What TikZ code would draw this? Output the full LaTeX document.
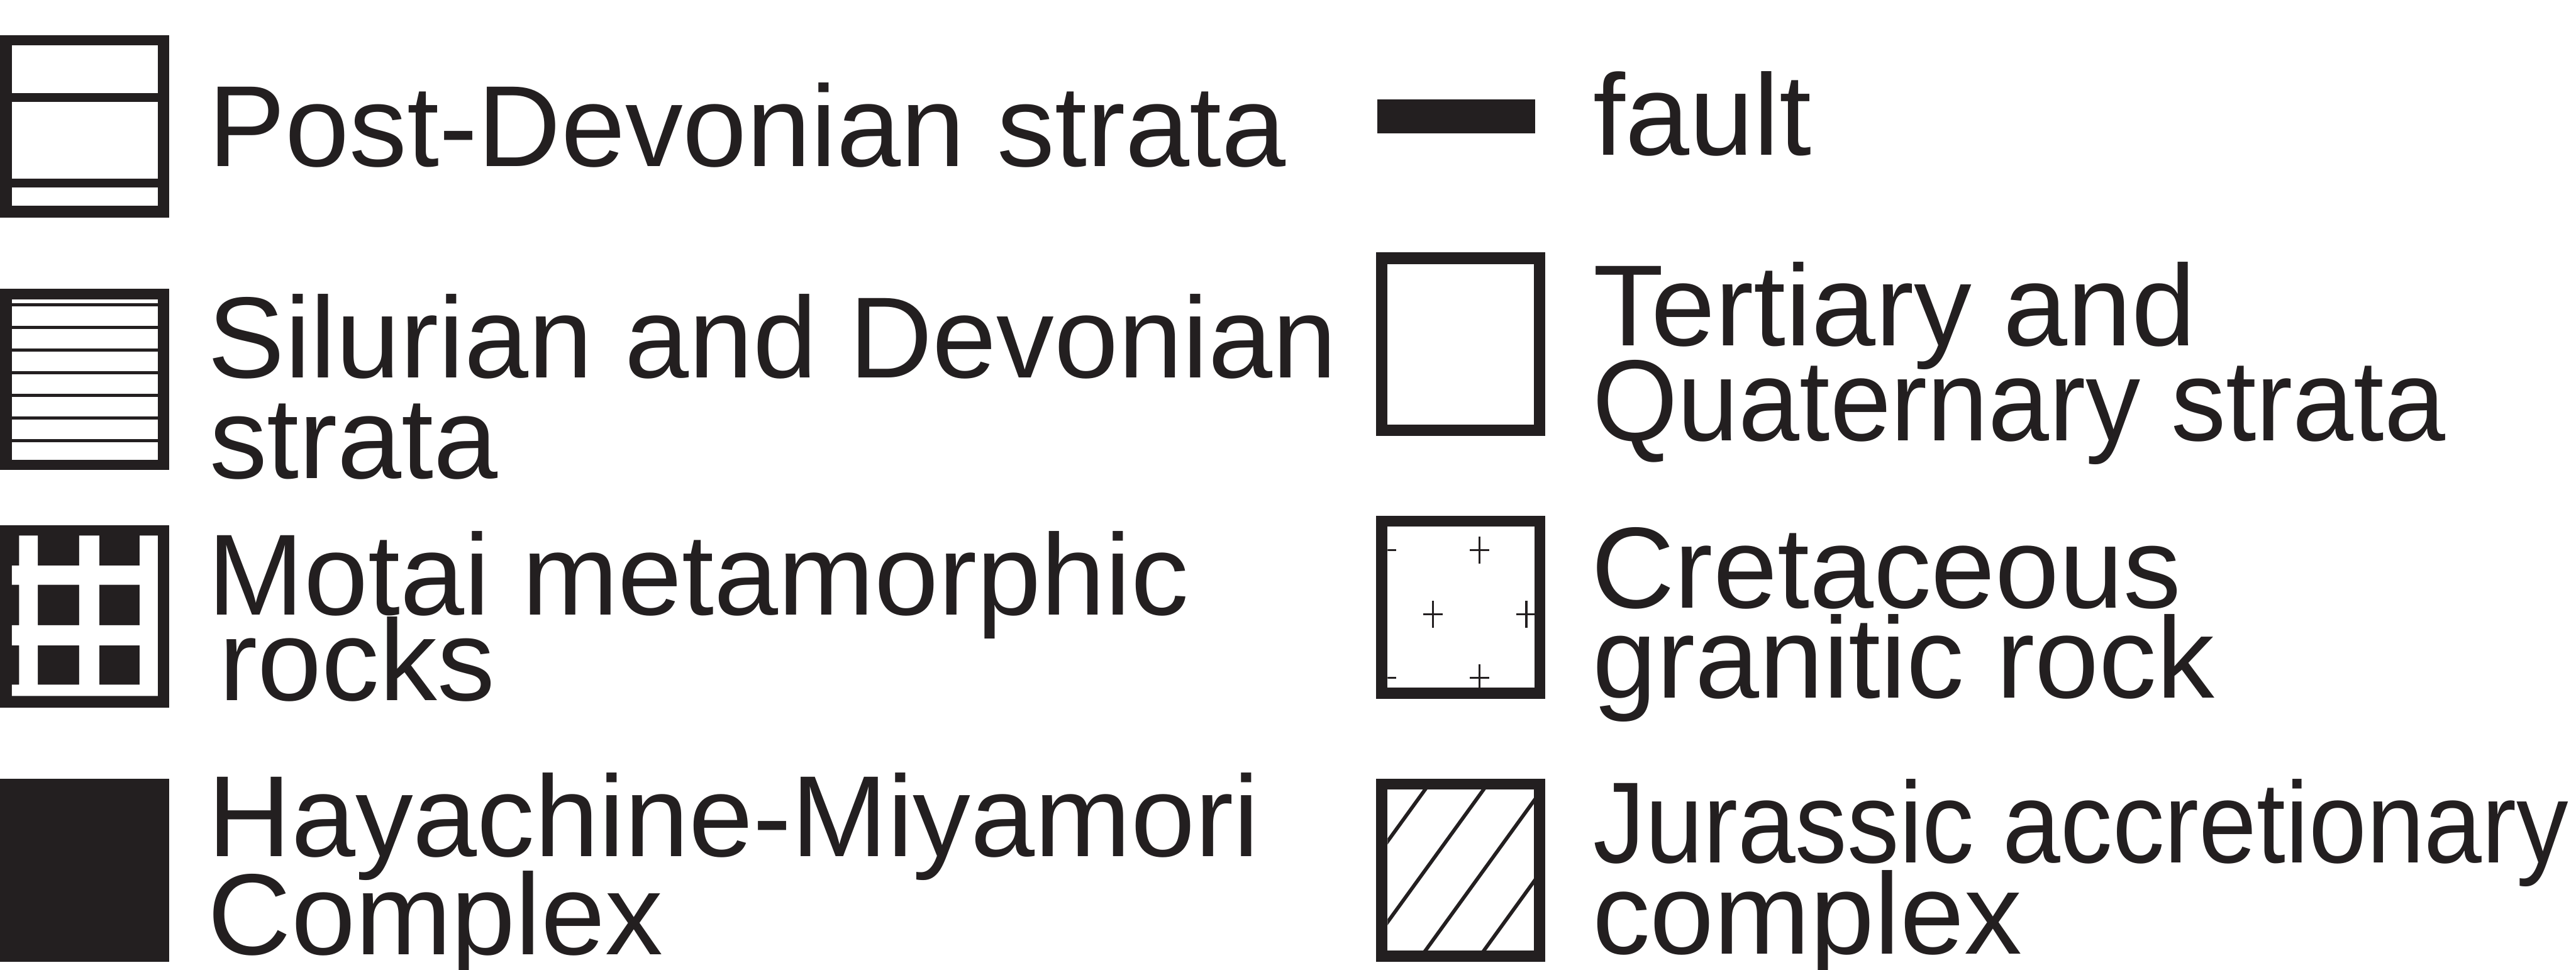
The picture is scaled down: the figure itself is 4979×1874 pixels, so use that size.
\documentclass[tikz,border=0pt]{standalone}
\usepackage{fontspec}
\newfontfamily\legendfont{Liberation Sans}
\definecolor{ink}{HTML}{231F20}
\tikzset{
  granitecross/.pic={\draw[ink, line width=4pt] (-19,0) -- (19,0) (0,-26) -- (0,26);}
}
\begin{document}
\begin{tikzpicture}[x=1pt, y=-1pt,
  lab/.style={anchor=base west, inner sep=0pt, outer sep=0pt, text=ink,
    font=\legendfont\fontsize{223pt}{223pt}\selectfont},
  swatch/.style={fill=ink},
  paper/.style={fill=white}]
\useasboundingbox[fill=white] (0,0) rectangle (4979,1874);

% Post-Devonian strata: two bands in an open box
\fill[swatch] (0,68) rectangle (327,420);
\fill[paper] (23,88) rectangle (305,398);
\fill[swatch] (23,180) rectangle (305,197);
\fill[swatch] (23,345) rectangle (305,362);

% Silurian and Devonian strata: closely ruled box
\fill[swatch] (0,558) rectangle (327,908);
\fill[paper] (23,578) rectangle (305,888);
\foreach \k in {0,...,6}
  \fill[swatch] (23,{585.5+43.75*\k}) rectangle (305,{592.5+43.75*\k});

% Motai metamorphic rocks: black blocks on a white grid
\fill[swatch] (0,1015) rectangle (327,1367);
\fill[paper] (37,1035) rectangle (73,1345)
             (153,1035) rectangle (192,1323)
             (270,1035) rectangle (305,1345)
             (23,1093) rectangle (305,1130)
             (23,1208) rectangle (305,1247)
             (23,1323) rectangle (305,1345);

% Hayachine-Miyamori Complex: solid box
\fill[swatch] (0,1505) rectangle (327,1858);

% fault
\fill[swatch] (2662,192) rectangle (2967,258);

% Tertiary and Quaternary strata: empty box
\fill[swatch] (2660,488) rectangle (2987,842);
\fill[paper] (2682,510) rectangle (2965,820);

% Cretaceous granitic rock: scattered crosses
\fill[swatch] (2660,997) rectangle (2987,1350);
\fill[paper] (2682,1018) rectangle (2966,1328);
\begin{scope}
  \clip (2682,1018) rectangle (2966,1328);
  \foreach \p in {(2680,1063),(2860,1063),(2770,1187),(2950,1187),(2680,1310),(2860,1310)}
    \pic at \p {granitecross};
\end{scope}

% Jurassic accretionary complex: oblique hatching
\fill[swatch] (2660,1505) rectangle (2987,1858);
\fill[paper] (2682,1525) rectangle (2965,1837);
\begin{scope}
  \clip (2682,1525) rectangle (2965,1837);
  \foreach \xb in {2529,2642,2755,2868}
    \draw[ink, line width=7pt] ({\xb-22.6},1868.2) -- ({\xb+248.6},1493.8);
\end{scope}

% labels, left column
\node[lab] (postdev) at (403,322) {Post-Devonian strata};
\node[lab] (silur1) at (402,730) {Silurian and Devonian};
\node[lab] (silur2) at (405,925) {strata};
\node[lab] (motai1) at (402,1188) {Motai metamorphic};
\node[lab] (motai2) at (424,1354) {rocks};
\node[lab] (haya1) at (402,1655) {Hayachine-Miyamori};
\node[lab] (haya2) at (402,1845) {Complex};

% labels, right column
\node[lab] (fault) at (3080,300) {fault};
\node[lab] (tert1) at (3080,668) {Tertiary and};
\node[lab] (tert2) at (3078,852) {\scalebox{0.95}[1]{Quaternary strata}};
\node[lab] (cret1) at (3076,1175) {Cretaceous};
\node[lab] (cret2) at (3078,1349) {granitic rock};
\node[lab] (jura1) at (3080,1667) {\scalebox{0.9}[1]{Jurassic accretionary}};
\node[lab] (jura2) at (3078,1843) {complex};
\end{tikzpicture}
\end{document}
